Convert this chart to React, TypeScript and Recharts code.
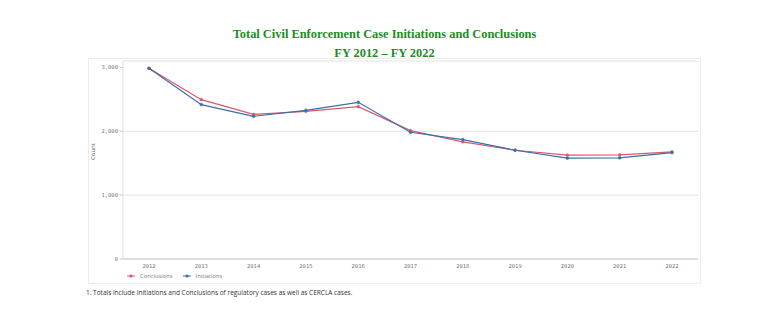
import { LineChart, Line, XAxis, YAxis, CartesianGrid } from "recharts";

const years = ["2012", "2013", "2014", "2015", "2016", "2017", "2018", "2019", "2020", "2021", "2022"];
const conclusions = [2985, 2495, 2265, 2312, 2386, 2010, 1833, 1703, 1625, 1630, 1678];
const initiations = [2985, 2417, 2234, 2328, 2453, 1984, 1870, 1703, 1578, 1583, 1665];
const yTicks = [0, 1000, 2000, 3000];

const RED = "#d9586f";
const BLUE = "#3a6ea8";

const data = years.map((year, i) => ({
  year,
  Conclusions: conclusions[i],
  Initiations: initiations[i],
}));

const tickStyle = { fontSize: 5.5, fill: "#777", fontFamily: "DejaVu Sans Mono" };

function LegendItem({ color, label }: { color: string; label: string }) {
  return (
    <span style={{ display: "inline-flex", alignItems: "center", marginRight: 10 }}>
      <svg width={8} height={6} style={{ marginRight: 5 }}>
        <line x1={0} y1={3} x2={8} y2={3} stroke={color} strokeWidth={1} />
        <circle cx={4} cy={3} r={1.6} fill={color} />
      </svg>
      {label}
    </span>
  );
}

export default function App() {
  return (
    <div style={{ position: "absolute", left: 0, top: 0, width: 783, height: 327, background: "#fff" }}>
      <div
        style={{
          position: "absolute",
          left: 0,
          width: 769,
          top: 25,
          textAlign: "center",
          color: "#228b22",
          fontFamily: "'Liberation Serif', serif",
          fontWeight: "bold",
          fontSize: 12.4,
          lineHeight: "19px",
        }}
      >
        <div>Total Civil Enforcement Case Initiations and Conclusions</div>
        <div>FY 2012 – FY 2022</div>
      </div>
      <div
        style={{
          position: "absolute",
          left: 88,
          top: 58,
          width: 611,
          height: 224,
          border: "1px solid #ececec",
        }}
      >
        <LineChart width={611} height={224} data={data} margin={{ top: 2, right: 2, left: 0, bottom: 0 }}>
          <CartesianGrid vertical={false} stroke="#e3e3e3" horizontalValues={[1000, 2000, 3100]} />
          <XAxis
            dataKey="year"
            height={24}
            padding={{ left: 26, right: 26 }}
            tick={tickStyle}
            tickLine={false}
            axisLine={{ stroke: "#bbb" }}
            tickMargin={-1}
          />
          <YAxis
            width={34}
            domain={[0, 3100]}
            ticks={yTicks}
            tick={tickStyle}
            tickFormatter={(v: number) => v.toLocaleString("en-US")}
            tickSize={3}
            tickLine={{ stroke: "#ccc" }}
            axisLine={{ stroke: "#e0e0e0" }}
            label={{ value: "Count", angle: -90, position: "insideLeft", offset: 4, style: { fontSize: 6, fill: "#666", fontFamily: "Open Sans" } }}
          />
          <Line
            dataKey="Conclusions"
            stroke={RED}
            strokeWidth={1.2}
            dot={{ r: 1.4, fill: RED, stroke: RED, strokeWidth: 0.5 }}
            isAnimationActive={false}
          />
          <Line
            dataKey="Initiations"
            stroke={BLUE}
            strokeWidth={1.2}
            dot={{ r: 1.4, fill: BLUE, stroke: BLUE, strokeWidth: 0.5 }}
            isAnimationActive={false}
          />
        </LineChart>
        <div
          style={{
            position: "absolute",
            left: 38,
            top: 213,
            fontSize: 5.8,
            color: "#777",
            fontFamily: "'Open Sans', sans-serif",
            display: "flex",
          }}
        >
          <LegendItem color={RED} label="Conclusions" />
          <LegendItem color={BLUE} label="Initiations" />
        </div>
      </div>
      <div
        style={{
          position: "absolute",
          left: 86,
          top: 288,
          fontSize: 6.5,
          color: "#333",
          fontFamily: "'Open Sans', sans-serif",
        }}
      >
        1. Totals include Initiations and Conclusions of regulatory cases as well as CERCLA cases.
      </div>
    </div>
  );
}
